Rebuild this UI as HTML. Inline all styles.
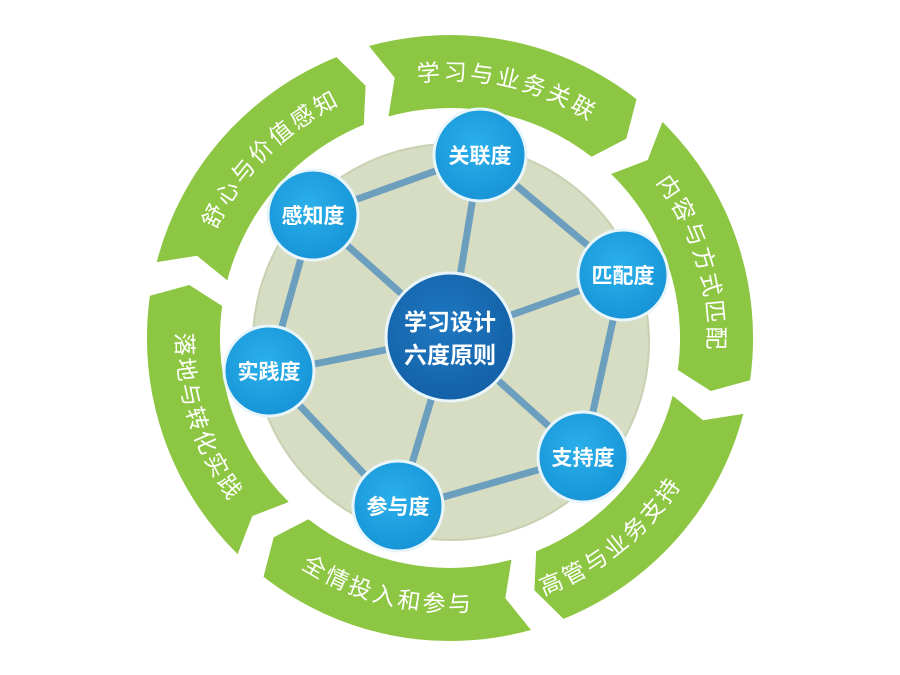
<!DOCTYPE html>
<html><head><meta charset="utf-8">
<style>
html,body{margin:0;padding:0;background:#fff;width:900px;height:675px;overflow:hidden}
svg{display:block}
text{font-family:"Liberation Sans","Noto Sans CJK SC",sans-serif;}
</style></head>
<body>
<svg id="s" width="900" height="675" viewBox="0 0 900 675" xmlns="http://www.w3.org/2000/svg">
<defs>
<radialGradient id="nb" cx="45%" cy="40%" r="65%"><stop offset="0" stop-color="#2bb0ea"/><stop offset="1" stop-color="#1592d6"/></radialGradient>
<radialGradient id="cb" cx="45%" cy="40%" r="65%"><stop offset="0" stop-color="#1f78c0"/><stop offset="1" stop-color="#135fa6"/></radialGradient>
</defs>
<g id="ring"></g>
<circle cx="451" cy="342" r="198" fill="#d7ddc2" stroke="#c9d1b3" stroke-width="2"/>
<g stroke="#6c9fbe" stroke-width="7" fill="none" stroke-linecap="round">
<polygon points="480,155 623,275 583,457 398,510 269,373 313,215"/>
<line x1="450" y1="337" x2="480" y2="155"/>
<line x1="450" y1="337" x2="623" y2="275"/>
<line x1="450" y1="337" x2="583" y2="457"/>
<line x1="450" y1="337" x2="398" y2="510"/>
<line x1="450" y1="337" x2="269" y2="373"/>
<line x1="450" y1="337" x2="313" y2="215"/>
</g>
<g stroke="#e8f6fc" stroke-width="3" fill="url(#nb)">
<circle cx="480" cy="155" r="46"/>
<circle cx="623" cy="275" r="45"/>
<circle cx="583" cy="457" r="45"/>
<circle cx="398" cy="506" r="45"/>
<circle cx="269" cy="371" r="45"/>
<circle cx="313" cy="215" r="45"/>
</g>
<circle cx="450" cy="337" r="64" fill="url(#cb)" stroke="#e8f6fc" stroke-width="3"/>
<g fill="#fff" font-size="21" font-weight="bold" text-anchor="middle">
<text x="480" y="163">关联度</text>
<text x="623" y="283">匹配度</text>
<text x="583" y="465">支持度</text>
<text x="398" y="514">参与度</text>
<text x="269" y="379">实践度</text>
<text x="313" y="223">感知度</text>
<text x="450" y="330" font-size="23">学习设计</text>
<text x="450" y="363" font-size="23">六度原则</text>
</g>
</svg>
<script>
(function(){
var NS="http://www.w3.org/2000/svg";
var cx=450,cy=338,R=303,ri=230,rm=266;
function P(r,a){var t=a*Math.PI/180;return [(cx+r*Math.sin(t)).toFixed(1),(cy-r*Math.cos(t)).toFixed(1)];}
var g=document.getElementById('ring');
var svg=document.getElementById('s');
var defs=svg.querySelector('defs');
var labels=["学习与业务关联","内容与方式匹配","高管与业务支持","全情投入和参与","落地与转化实践","舒心与价值感知"];
var centers=[13,73,141,194,252,315];
for(var k=0;k<6;k++){
 var a0=-17+60*k+1.5,a1=-17+60*(k+1)-1.5,d=3.5;
 var o0=P(R,a0),o1=P(R,a1-d),tip=P(rm,a1),i1=P(ri,a1-d),i0=P(ri,a0),n=P(rm,a0+d);
 var p="M"+o0+" A"+R+","+R+" 0 0 1 "+o1+" L"+tip+" L"+i1+" A"+ri+","+ri+" 0 0 0 "+i0+" L"+n+" Z";
 var path=document.createElementNS(NS,'path');
 path.setAttribute('d',p);path.setAttribute('fill','#8dc642');
 g.appendChild(path);
 var c=centers[k],cw=(k<2||k==5);
 var tp=document.createElementNS(NS,'path');
 tp.setAttribute('id','tp'+k);
 var rr,s,e;
 if(cw){rr=rm-8;s=P(rr,c-80);e=P(rr,c+80);tp.setAttribute('d',"M"+s+" A"+rr+","+rr+" 0 0 1 "+e);}
 else{rr=rm+8;s=P(rr,c+80);e=P(rr,c-80);tp.setAttribute('d',"M"+s+" A"+rr+","+rr+" 0 0 0 "+e);}
 defs.appendChild(tp);
 var t=document.createElementNS(NS,'text');
 t.setAttribute('fill','#fff');t.setAttribute('font-size','23');t.setAttribute('letter-spacing','3');
 var tpa=document.createElementNS(NS,'textPath');
 tpa.setAttribute('href','#tp'+k);tpa.setAttributeNS("http://www.w3.org/1999/xlink","xlink:href",'#tp'+k);
 tpa.setAttribute('startOffset','50%');tpa.setAttribute('text-anchor','middle');
 tpa.textContent=labels[k];
 t.appendChild(tpa);g.appendChild(t);
}
})();
</script>
</body></html>
